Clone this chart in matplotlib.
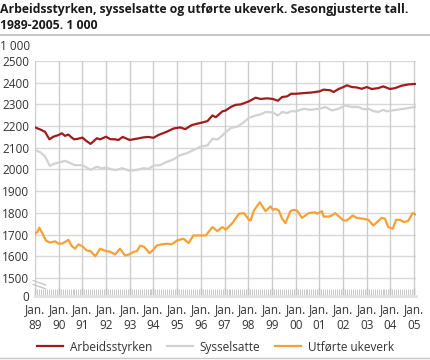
import numpy as np
import matplotlib.pyplot as plt
from matplotlib.lines import Line2D

#==============================================================================#
#       Data (years since Jan. 1989, values in 1 000)
#==============================================================================#
arb_t = [0.0, 0.21, 0.42, 0.61, 0.77, 1.0, 1.13, 1.27, 1.41, 1.51, 1.65, 1.83,
         2.0, 2.15, 2.35, 2.61, 2.75, 3.0, 3.17, 3.38, 3.52, 3.70, 4.0, 4.3,
         4.58, 4.79, 5.0, 5.21, 5.56, 5.85, 6.13, 6.34, 6.62, 7.0, 7.28, 7.49,
         7.63, 7.91, 8.05, 8.26, 8.47, 8.68, 9.03, 9.31, 9.52, 9.80, 10.04,
         10.25, 10.43, 10.64, 10.81, 11.02, 11.34, 11.69, 12.01, 12.18, 12.46,
         12.60, 12.81, 13.02, 13.16, 13.37, 13.58, 13.79, 14.0, 14.21, 14.49,
         14.70, 14.98, 15.19, 15.47, 15.75, 16.03]
arb_v = [2194, 2185, 2174, 2139, 2151, 2159, 2167, 2155, 2161, 2151, 2139, 2142,
         2147, 2133, 2118, 2144, 2139, 2151, 2140, 2139, 2136, 2150, 2136, 2142,
         2148, 2150, 2146, 2159, 2174, 2189, 2194, 2186, 2205, 2215, 2223, 2249,
         2241, 2268, 2272, 2288, 2298, 2300, 2314, 2331, 2325, 2328, 2325,
         2317, 2334, 2337, 2349, 2349, 2352, 2355, 2360, 2368, 2365,
         2357, 2371, 2380, 2388, 2380, 2378, 2372, 2380, 2371, 2375,
         2383, 2371, 2375, 2386, 2392, 2394]

sys_t = [0.0, 0.21, 0.42, 0.63, 0.77, 1.0, 1.27, 1.48, 1.69, 2.0, 2.18, 2.35,
         2.61, 2.82, 3.0, 3.24, 3.45, 3.66, 4.0, 4.3, 4.58, 4.79, 5.0, 5.28,
         5.56, 5.85, 6.13, 6.41, 6.69, 7.0, 7.28, 7.49, 7.70, 7.91, 8.05, 8.26,
         8.54, 8.82, 9.03, 9.31, 9.52, 9.73, 10.04, 10.25, 10.43, 10.64, 10.81,
         11.02, 11.34, 11.62, 12.01, 12.25, 12.53, 12.81, 13.09, 13.37, 13.65,
         13.86, 14.07, 14.28, 14.49, 14.70, 14.84, 15.05, 15.40, 15.75, 16.03]
sys_v = [2090, 2080, 2061, 2016, 2025, 2032, 2040, 2030, 2020, 2020, 2009, 1998,
         2013, 2005, 2009, 2000, 1998, 2006, 1994, 1998, 2006, 2003, 2018, 2020,
         2035, 2047, 2066, 2075, 2090, 2106, 2111, 2142, 2138, 2157, 2172, 2191,
         2198, 2218, 2238, 2249, 2254, 2265, 2263, 2249, 2265, 2260, 2269,
         2268, 2280, 2275, 2280, 2288, 2272, 2280, 2295, 2288, 2288,
         2278, 2280, 2269, 2265, 2275, 2268, 2272, 2277, 2283, 2288]

uke_t = [0.0, 0.1, 0.18, 0.32, 0.46, 0.63, 0.85, 1.0, 1.13, 1.27, 1.41, 1.55,
         1.69, 1.83, 2.0, 2.18, 2.35, 2.54, 2.75, 3.0, 3.17, 3.38, 3.59, 3.80,
         3.99, 4.15, 4.3, 4.44, 4.61, 4.83, 5.0, 5.14, 5.35, 5.56, 5.77, 6.0,
         6.27, 6.48, 6.69, 7.0, 7.21, 7.49, 7.70, 7.91, 8.05, 8.33, 8.61, 8.82,
         9.03, 9.10, 9.24, 9.49, 9.73, 9.94, 10.04, 10.15, 10.29, 10.43, 10.57,
         10.78, 10.92, 11.06, 11.27, 11.55, 11.83, 11.90, 12.11, 12.18, 12.39,
         12.53, 12.67, 13.02, 13.16, 13.41, 13.58, 13.86, 14.07, 14.28, 14.63,
         14.77, 14.91, 15.10, 15.24, 15.40, 15.57, 15.75, 15.94, 16.10]
uke_v = [1704, 1712, 1732, 1704, 1673, 1663, 1669, 1658, 1658, 1666, 1676, 1647,
         1635, 1655, 1646, 1627, 1624, 1600, 1635, 1624, 1621, 1609, 1635, 1604,
         1609, 1620, 1624, 1649, 1643, 1615, 1630, 1650, 1655, 1658, 1655, 1673,
         1681, 1661, 1696, 1696, 1696, 1735, 1716, 1735, 1722, 1753, 1796, 1799,
         1768, 1765, 1811, 1849, 1808, 1830, 1814, 1819, 1811, 1773, 1753,
         1808, 1814, 1811, 1777, 1799, 1803, 1796, 1808, 1783, 1783,
         1788, 1799, 1765, 1765, 1788, 1777, 1773, 1768, 1742, 1777,
         1773, 1735, 1727, 1768, 1768, 1758, 1763, 1799, 1791]

years = ['89', '90', '91', '92', '93', '94', '95', '96', '97', '98', '99',
         '00', '01', '02', '03', '04', '05']
yticks = [1500, 1600, 1700, 1800, 1900, 2000, 2100, 2200, 2300, 2400, 2500]
labels = ['Arbeidsstyrken', 'Sysselsatte', 'Utførte ukeverk']
colors = ['#a01c1c', '#d2d2d2', '#f7a035']

#==============================================================================#
#       Plot
#==============================================================================#
plt.rcParams['font.family'] = ['Open Sans', 'DejaVu Sans']
fig = plt.figure(figsize=(4.31, 3.6), dpi=100)
ax = fig.add_axes([35/431, 64/360, 381/431, 235/360])

ybot = 1417  # axis foot, labelled 0 (broken axis)
ax.set_ylim(ybot, 2500)
ax.set_xlim(0, 16.08)

ax.plot(sys_t, sys_v, color=colors[1], lw=1.6, zorder=3)
ax.plot(uke_t, uke_v, color=colors[2], lw=1.6, zorder=4)
ax.plot(arb_t, arb_v, color=colors[0], lw=1.6, zorder=5)

# grid
for y in yticks:
    ax.axhline(y, color='#d9d9d9', lw=1.0, zorder=1)
for i in range(len(years)):
    ax.axvline(i, color='#cccccc', lw=1.0, zorder=1)

ax.set_yticks([ybot] + yticks)
ax.set_yticklabels(['0'] + [str(y) for y in yticks])
ax.set_xticks(range(len(years)))
ax.set_xticklabels(['Jan.\n' + y for y in years], linespacing=1.3)
ax.set_xticks(np.arange(0, 16.05, 1/12), minor=True)
ax.tick_params(axis='y', length=0, pad=4, labelsize=8.5, labelcolor='#333333')
ax.tick_params(axis='x', which='major', direction='in', length=6, width=1,
               color='#c0c0c0', labelsize=8.5, labelcolor='#333333', pad=5)
ax.tick_params(axis='x', which='minor', direction='in', length=5, width=0.7,
               color='#c8c8c8')
for s in ['top', 'right', 'left']:
    ax.spines[s].set_visible(False)
ax.spines['bottom'].set_color('#e2e2e2')
ax.spines['bottom'].set_linewidth(2)

# axis break marks
for dy in [0, 18]:
    ax.plot([-0.08, 0.45], [1488 - dy, 1468 - dy], color='#c8c8c8',
            lw=1.0, clip_on=False, zorder=6)

# titles
fig.text(0.0, 1 - 3/360, 'Arbeidsstyrken, sysselsatte og utførte ukeverk. Sesongjusterte tall.',
         fontsize=8.8, fontweight='bold', va='top', ha='left', color='#1a1a1a')
fig.text(0.0, 1 - 19/360, '1989-2005. 1 000', fontsize=8.8, fontweight='bold',
         va='top', ha='left', color='#1a1a1a')
fig.add_artist(Line2D([0, 1], [1 - 35/360, 1 - 35/360], color='#c8c8c8', lw=1.5))
fig.add_artist(Line2D([0, 1], [1 - 358/360, 1 - 358/360], color='#c8c8c8', lw=1.0))
fig.text(0.0, 1 - 47/360, '1 000', fontsize=8.5, va='center', ha='left', color='#333333')

handles = [Line2D([], [], color=c, lw=1.6) for c in colors]
fig.legend(handles, labels, loc='center', bbox_to_anchor=(0.5, 1 - 347/360),
           ncol=3, frameon=False, fontsize=8.5, handlelength=2.2,
           columnspacing=1.2, handletextpad=0.6, labelcolor='#333333')

plt.savefig('out.png', dpi=100)
